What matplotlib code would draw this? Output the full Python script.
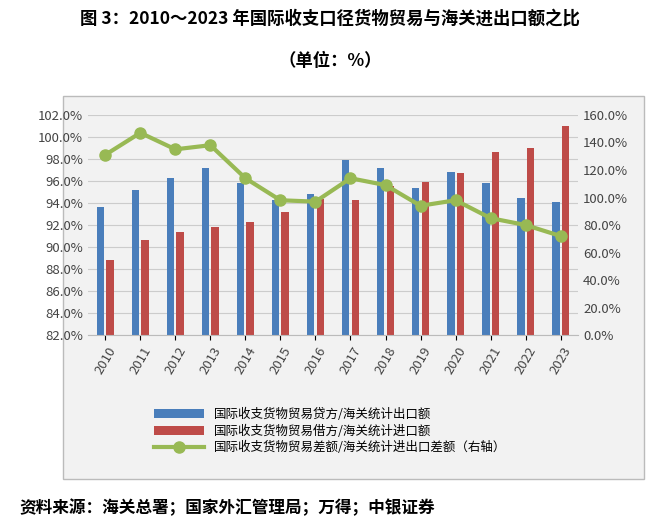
import matplotlib
matplotlib.use("Agg")
import matplotlib.pyplot as plt
from matplotlib.patches import Rectangle
import numpy as np

plt.rcParams['font.family'] = ['Noto Sans CJK SC', 'DejaVu Sans']

years = [str(y) for y in range(2010, 2024)]
credit = [93.6, 95.2, 96.3, 97.2, 95.8, 94.3, 94.8, 97.9, 97.2, 95.4, 96.8, 95.8, 94.5, 94.1]
debit = [88.8, 90.6, 91.4, 91.8, 92.3, 93.2, 94.4, 94.3, 95.5, 95.9, 96.7, 98.6, 99.0, 101.0]
diff = [131, 147, 135, 138, 114, 98, 97, 114, 109, 94, 98, 85, 80, 72]
labels = ['国际收支货物贸易贷方/海关统计出口额',
          '国际收支货物贸易借方/海关统计进口额',
          '国际收支货物贸易差额/海关统计进出口差额（右轴）']

fig = plt.figure(figsize=(6.6, 5.32), dpi=100)
fig.patch.set_facecolor('white')
fig.text(0.5, 0.965, '图 3：2010～2023 年国际收支口径货物贸易与海关进出口额之比', ha='center', va='center',
         fontsize=12.5, fontweight='bold')
fig.text(0.5, 0.885, '（单位：%）', ha='center', va='center', fontsize=12.5, fontweight='bold')
fig.text(0.03, 0.045, '资料来源：海关总署；国家外汇管理局；万得；中银证券', ha='left', va='center',
         fontsize=12, fontweight='bold')
rect = Rectangle((0.095, 0.1), 0.88, 0.72, transform=fig.transFigure,
                 facecolor='#f2f2f2', edgecolor='#bbbbbb', lw=1, zorder=-10)
fig.add_artist(rect)

ax = fig.add_axes([0.133, 0.37, 0.743, 0.414])
ax.set_facecolor('none')
x = np.arange(len(years))
w = 0.22
ax.bar(x - 0.14, np.array(credit) - 82, w, bottom=82, color='#4a7ebb', label=labels[0], zorder=2)
ax.bar(x + 0.14, np.array(debit) - 82, w, bottom=82, color='#be4b48', label=labels[1], zorder=2)
ax.set_ylim(82, 102)
ax.set_yticks(np.arange(82, 102.1, 2))
ax.set_yticklabels([f'{v:.1f}%' for v in np.arange(82, 102.1, 2)], fontsize=9.5, color='#444444')
ax.set_xlim(-0.5, len(years) - 0.5)
ax.set_xticks(x)
ax.set_xticklabels(years, rotation=60, fontsize=9.5, color='#444444')
ax.grid(axis='y', color='#cccccc', lw=0.8, zorder=0)
ax.set_axisbelow(True)
for s in ['top', 'right', 'left']:
    ax.spines[s].set_visible(False)
ax.spines['bottom'].set_color('#bbbbbb')
ax.tick_params(axis='y', length=0)

ax2 = ax.twinx()
ax2.plot(x, diff, color='#98b954', lw=3, marker='o', ms=8, label=labels[2], zorder=3)
ax2.set_ylim(0, 160)
ax2.set_yticks(np.arange(0, 161, 20))
ax2.set_yticklabels([f'{v:.1f}%' for v in np.arange(0, 161, 20)], fontsize=9.5, color='#444444')
ax2.tick_params(axis='y', length=0)
for s in ax2.spines.values():
    s.set_visible(False)

h1, l1 = ax.get_legend_handles_labels()
h2, l2 = ax2.get_legend_handles_labels()
fig.legend(h1 + h2, l1 + l2, loc='center', bbox_to_anchor=(0.5, 0.19), frameon=False,
           fontsize=9, handlelength=4, labelspacing=0.3)

fig.savefig('out.png', dpi=100)
